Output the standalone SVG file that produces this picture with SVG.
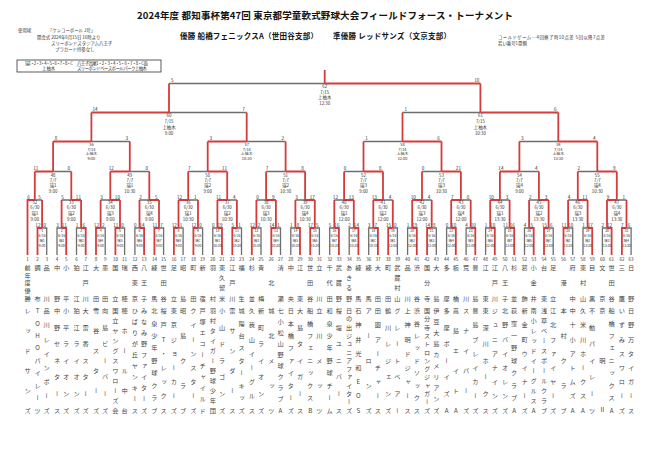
<svg xmlns="http://www.w3.org/2000/svg" width="651" height="460" viewBox="0 0 651 460">
<style>
text{font-family:"Noto Sans CJK JP","Noto Sans",sans-serif;fill:#333}
.title{font-size:9.5px;font-weight:700;fill:#111}
.sub{font-size:7.5px;font-weight:700;fill:#111}
.i{font-size:4.4px}
.l{font-size:4.4px;text-anchor:middle}
.q{font-size:3.9px}
.l1{font-size:3.4px;text-anchor:middle}
.sc{font-size:4.6px;text-anchor:middle}
.n{font-size:4.5px;text-anchor:middle}
.b,.v{font-size:6.2px;writing-mode:vertical-rl;text-orientation:upright;fill:#444}
.r{fill:none;stroke:#d43c3c;stroke-width:1.8}
.g{fill:none;stroke:#6e6e6e;stroke-width:1.3}
</style>
<g id="header">
<text class="title" x="137" y="19" textLength="376">2024年度 都知事杯第47回 東京都学童軟式野球大会フィールドフォース・トーナメント</text>
<text class="sub" x="180" y="39" textLength="138">優勝 船橋フェニックスA（世田谷支部）</text>
<text class="sub" x="333" y="39" textLength="118">準優勝 レッドサンズ（文京支部）</text>
<text class="i" x="18" y="31.5">使用球</text>
<text class="i" x="48" y="31.5">「ケンコーボール J号」</text>
<text class="i" x="37" y="39.3">開会式 2024年6月15日 16時より</text>
<text class="i" x="51" y="45">スリーボンドスタジアム八王子</text>
<text class="i" x="55" y="51">プラカード持参なし</text>
<rect x="17" y="60" width="144" height="12" fill="none" stroke="#333" stroke-width="0.8"/>
<text class="i" x="25" y="64.6" textLength="48">瑞1・2・3・4・5・6・7・8・C</text>
<text class="i" x="77" y="64.6" textLength="71">八王子高尾1・2・3・4・5・6・7・8・C面</text>
<text class="i" x="42" y="70.3">上柚木</text>
<text class="i" x="77" y="70.3" textLength="70">スリーボンドベースボールパーク上柚木</text>
<text class="i" x="498" y="39.3" textLength="107">コールドゲーム…4回終了時10点差 5回以降7点差</text>
<text class="i" x="498" y="45">若い番号1塁側</text>
</g>
<g id="connectors">
<path class="g" d="M46.7 255V228H42.1M57 255V228H61.6M76.5 255V228H81.1M105.2 255V228H100.6M124.6 255V228H120M134.9 255V228H139.5M163.6 255V228H159M183.1 255V228H178.5M202.6 255V228H198M212.8 255V228H217.4M241.5 255V228H236.9M261 255V228H256.4M280.5 255V228H275.9M290.8 255V228H295.4M319.4 255V228H314.8M329.7 255V228H334.3M349.2 255V228H353.8M368.7 255V228H373.3M397.4 255V228H392.8M407.6 255V228H412.2M436.3 255V228H431.7M446.6 255V228H451.2M466.1 255V228H470.7M485.6 255V228H490.2M505 255V228H509.6M524.5 255V228H529.1M553.2 255V228H548.6M572.7 255V228H568.1M583 255V228H587.6M602.4 255V228H607M631.1 255V228H626.5
M42.1 200H34.8M61.6 200H71.3M100.6 200H110.3M139.5 200H149.3M198 200H188.2M236.9 200H227.2M256.4 200H266.1M295.4 200H305.1M334.3 200H344.1M392.8 200H383M431.7 200H422M470.7 200H460.9M509.6 200H499.9M529.1 200H538.9M568.1 200H577.8M626.5 200H616.8
M71.3 171.5H53.1M149.3 171.5H129.8M188.2 171.5H207.7M266.1 171.5H285.6M344.1 171.5H363.5M422 171.5H441.5M538.9 171.5H519.4M577.8 171.5H597.3
M129.8 141.5H91.4M285.6 141.5H246.7M363.5 141.5H402.5M519.4 141.5H558.3
M246.7 112.5H169M402.5 112.5H480.4M169 83.5H324.7"/>
<path class="r" d="M37.5 255V228H42.1M66.2 255V228H61.6M85.7 255V228H81.1M96 255V228H100.6M115.4 255V228H120M144.1 255V228H139.5M154.4 255V228H159M173.9 255V228H178.5M193.4 255V228H198M222 255V228H217.4M232.3 255V228H236.9M251.8 255V228H256.4M271.3 255V228H275.9M300 255V228H295.4M310.2 255V228H314.8M338.9 255V228H334.3M358.4 255V228H353.8M377.9 255V228H373.3M388.2 255V228H392.8M416.8 255V228H412.2M427.1 255V228H431.7M455.8 255V228H451.2M475.3 255V228H470.7M494.8 255V228H490.2M514.2 255V228H509.6M533.7 255V228H529.1M544 255V228H548.6M563.5 255V228H568.1M592.2 255V228H587.6M611.6 255V228H607M621.9 255V228H626.5
M42.1 228V200M61.6 228V200M81.1 228V200M100.6 228V200M120 228V200M139.5 228V200M159 228V200M178.5 228V200M198 228V200M217.4 228V200M236.9 228V200M256.4 228V200M275.9 228V200M295.4 228V200M314.8 228V200M334.3 228V200M353.8 228V200M373.3 228V200M392.8 228V200M412.2 228V200M431.7 228V200M451.2 228V200M470.7 228V200M490.2 228V200M509.6 228V200M529.1 228V200M548.6 228V200M568.1 228V200M587.6 228V200M607 228V200M626.5 228V200
M27.5 255V200H34.8M81.1 200H71.3M120 200H110.3M159 200H149.3M178.5 200H188.2M217.4 200H227.2M275.9 200H266.1M314.8 200H305.1M353.8 200H344.1M373.3 200H383M412.2 200H422M451.2 200H460.9M490.2 200H499.9M548.6 200H538.9M587.6 200H577.8M607 200H616.8
M34.8 200V171.5M71.3 200V171.5M110.3 200V171.5M149.3 200V171.5M188.2 200V171.5M227.2 200V171.5M266.1 200V171.5M305.1 200V171.5M344.1 200V171.5M383 200V171.5M422 200V171.5M460.9 200V171.5M499.9 200V171.5M538.9 200V171.5M577.8 200V171.5M616.8 200V171.5
M34.8 171.5H53.1M110.3 171.5H129.8M227.2 171.5H207.7M305.1 171.5H285.6M383 171.5H363.5M460.9 171.5H441.5M499.9 171.5H519.4M616.8 171.5H597.3
M53.1 171.5V141.5M129.8 171.5V141.5M207.7 171.5V141.5M285.6 171.5V141.5M363.5 171.5V141.5M441.5 171.5V141.5M519.4 171.5V141.5M597.3 171.5V141.5
M53.1 141.5H91.4M207.7 141.5H246.7M441.5 141.5H402.5M597.3 141.5H558.3
M91.4 141.5V112.5M246.7 141.5V112.5M402.5 141.5V112.5M558.3 141.5V112.5
M91.4 112.5H169M558.3 112.5H480.4M169 112.5V83.5M480.4 112.5V83.5M480.4 83.5H324.7M324.7 83.5V70"/>
</g>
<g id="m1" transform="translate(42.1 228)"><text class="sc"><tspan x="-4.2" y="-1.3">12</tspan><tspan x="2.6" y="-1.3">0</tspan></text><text class="l1"><tspan x="0" y="4">1</tspan><tspan x="0" y="9.3">6/16</tspan><tspan x="0" y="14.3">瑞1</tspan><tspan x="0" y="19.3">9:00</tspan></text></g>
<g id="m2" transform="translate(61.6 228)"><text class="sc"><tspan x="-4.2" y="-1.3">3</tspan><tspan x="2.6" y="-1.3">11</tspan></text><text class="l1"><tspan x="0" y="4">2</tspan><tspan x="0" y="9.3">6/16</tspan><tspan x="0" y="14.3">瑞2</tspan><tspan x="0" y="19.3">9:00</tspan></text></g>
<g id="m3" transform="translate(81.1 228)"><text class="sc"><tspan x="-4.2" y="-1.3">1</tspan><tspan x="2.6" y="-1.3">6</tspan></text><text class="l1"><tspan x="0" y="4">3</tspan><tspan x="0" y="9.3">6/16</tspan><tspan x="0" y="14.3">瑞3</tspan><tspan x="0" y="19.3">9:00</tspan></text></g>
<g id="m4" transform="translate(100.6 228)"><text class="sc"><tspan x="-4.2" y="-1.3">12</tspan><tspan x="2.6" y="-1.3">2</tspan></text><text class="l1"><tspan x="0" y="4">4</tspan><tspan x="0" y="9.3">6/16</tspan><tspan x="0" y="14.3">瑞4</tspan><tspan x="0" y="19.3">9:00</tspan></text></g>
<g id="m5" transform="translate(120 228)"><text class="sc"><tspan x="-4.2" y="-1.3">11</tspan><tspan x="2.6" y="-1.3">0</tspan></text><text class="l1"><tspan x="0" y="4">5</tspan><tspan x="0" y="9.3">6/16</tspan><tspan x="0" y="14.3">瑞5</tspan><tspan x="0" y="19.3">9:00</tspan></text></g>
<g id="m6" transform="translate(139.5 228)"><text class="sc"><tspan x="-4.2" y="-1.3">0</tspan><tspan x="2.6" y="-1.3">14</tspan></text><text class="l1"><tspan x="0" y="4">6</tspan><tspan x="0" y="9.3">6/16</tspan><tspan x="0" y="14.3">瑞6</tspan><tspan x="0" y="19.3">9:00</tspan></text></g>
<g id="m7" transform="translate(159 228)"><text class="sc"><tspan x="-4.2" y="-1.3">11</tspan><tspan x="2.6" y="-1.3">7</tspan></text><text class="l1"><tspan x="0" y="4">7</tspan><tspan x="0" y="9.3">6/16</tspan><tspan x="0" y="14.3">瑞7</tspan><tspan x="0" y="19.3">9:00</tspan></text></g>
<g id="m8" transform="translate(178.5 228)"><text class="sc"><tspan x="-4.2" y="-1.3">12</tspan><tspan x="2.6" y="-1.3">1</tspan></text><text class="l1"><tspan x="0" y="4">8</tspan><tspan x="0" y="9.3">6/16</tspan><tspan x="0" y="14.3">瑞8</tspan><tspan x="0" y="19.3">9:00</tspan></text></g>
<g id="m9" transform="translate(198 228)"><text class="sc"><tspan x="-4.2" y="-1.3">12</tspan><tspan x="2.6" y="-1.3">0</tspan></text><text class="l1"><tspan x="0" y="4">9</tspan><tspan x="0" y="9.3">6/16</tspan><tspan x="0" y="14.3">瑞C</tspan><tspan x="0" y="19.3">9:00</tspan></text></g>
<g id="m10" transform="translate(217.4 228)"><text class="sc"><tspan x="-4.2" y="-1.3">0</tspan><tspan x="2.6" y="-1.3">19</tspan></text><text class="l1"><tspan x="0" y="4">10</tspan><tspan x="0" y="9.3">6/16</tspan><tspan x="0" y="14.3">瑞1</tspan><tspan x="0" y="19.3">10:30</tspan></text></g>
<g id="m11" transform="translate(236.9 228)"><text class="sc"><tspan x="-4.2" y="-1.3">5</tspan><tspan x="2.6" y="-1.3">1</tspan></text><text class="l1"><tspan x="0" y="4">11</tspan><tspan x="0" y="9.3">6/16</tspan><tspan x="0" y="14.3">瑞2</tspan><tspan x="0" y="19.3">10:30</tspan></text></g>
<g id="m12" transform="translate(256.4 228)"><text class="sc"><tspan x="-4.2" y="-1.3">12</tspan><tspan x="2.6" y="-1.3">2</tspan></text><text class="l1"><tspan x="0" y="4">12</tspan><tspan x="0" y="9.3">6/16</tspan><tspan x="0" y="14.3">瑞3</tspan><tspan x="0" y="19.3">10:30</tspan></text></g>
<g id="m13" transform="translate(275.9 228)"><text class="sc"><tspan x="-4.2" y="-1.3">14</tspan><tspan x="2.6" y="-1.3">1</tspan></text><text class="l1"><tspan x="0" y="4">13</tspan><tspan x="0" y="9.3">6/16</tspan><tspan x="0" y="14.3">瑞4</tspan><tspan x="0" y="19.3">10:30</tspan></text></g>
<g id="m14" transform="translate(295.4 228)"><text class="sc"><tspan x="-4.2" y="-1.3">1</tspan><tspan x="2.6" y="-1.3">8</tspan></text><text class="l1"><tspan x="0" y="4">14</tspan><tspan x="0" y="9.3">6/16</tspan><tspan x="0" y="14.3">瑞5</tspan><tspan x="0" y="19.3">10:30</tspan></text></g>
<g id="m15" transform="translate(314.8 228)"><text class="sc"><tspan x="-4.2" y="-1.3">17</tspan><tspan x="2.6" y="-1.3">5</tspan></text><text class="l1"><tspan x="0" y="4">15</tspan><tspan x="0" y="9.3">6/16</tspan><tspan x="0" y="14.3">瑞6</tspan><tspan x="0" y="19.3">10:30</tspan></text></g>
<g id="m16" transform="translate(334.3 228)"><text class="sc"><tspan x="-4.2" y="-1.3">5</tspan><tspan x="2.6" y="-1.3">16</tspan></text><text class="l1"><tspan x="0" y="4">16</tspan><tspan x="0" y="9.3">6/16</tspan><tspan x="0" y="14.3">瑞7</tspan><tspan x="0" y="19.3">10:30</tspan></text></g>
<g id="m17" transform="translate(353.8 228)"><text class="sc"><tspan x="-4.2" y="-1.3">2</tspan><tspan x="2.6" y="-1.3">14</tspan></text><text class="l1"><tspan x="0" y="4">17</tspan><tspan x="0" y="9.3">6/16</tspan><tspan x="0" y="14.3">瑞8</tspan><tspan x="0" y="19.3">10:30</tspan></text></g>
<g id="m18" transform="translate(373.3 228)"><text class="sc"><tspan x="-4.2" y="-1.3">3</tspan><tspan x="2.6" y="-1.3">7</tspan></text><text class="l1"><tspan x="0" y="4">18</tspan><tspan x="0" y="9.3">6/16</tspan><tspan x="0" y="14.3">瑞C</tspan><tspan x="0" y="19.3">10:30</tspan></text></g>
<g id="m19" transform="translate(392.8 228)"><text class="sc"><tspan x="-4.2" y="-1.3">15</tspan><tspan x="2.6" y="-1.3">0</tspan></text><text class="l1"><tspan x="0" y="4">19</tspan><tspan x="0" y="9.3">6/16</tspan><tspan x="0" y="14.3">瑞1</tspan><tspan x="0" y="19.3">12:00</tspan></text></g>
<g id="m20" transform="translate(412.2 228)"><text class="sc"><tspan x="-4.2" y="-1.3">1</tspan><tspan x="2.6" y="-1.3">19</tspan></text><text class="l1"><tspan x="0" y="4">20</tspan><tspan x="0" y="9.3">6/16</tspan><tspan x="0" y="14.3">瑞2</tspan><tspan x="0" y="19.3">12:00</tspan></text></g>
<g id="m21" transform="translate(431.7 228)"><text class="sc"><tspan x="-4.2" y="-1.3">14</tspan><tspan x="2.6" y="-1.3">8</tspan></text><text class="l1"><tspan x="0" y="4">21</tspan><tspan x="0" y="9.3">6/16</tspan><tspan x="0" y="14.3">瑞3</tspan><tspan x="0" y="19.3">12:00</tspan></text></g>
<g id="m22" transform="translate(451.2 228)"><text class="sc"><tspan x="-4.2" y="-1.3">0</tspan><tspan x="2.6" y="-1.3">10</tspan></text><text class="l1"><tspan x="0" y="4">22</tspan><tspan x="0" y="9.3">6/16</tspan><tspan x="0" y="14.3">瑞4</tspan><tspan x="0" y="19.3">12:00</tspan></text></g>
<g id="m23" transform="translate(470.7 228)"><text class="sc"><tspan x="-4.2" y="-1.3">4</tspan><tspan x="2.6" y="-1.3">10</tspan></text><text class="l1"><tspan x="0" y="4">23</tspan><tspan x="0" y="9.3">6/16</tspan><tspan x="0" y="14.3">瑞5</tspan><tspan x="0" y="19.3">12:00</tspan></text></g>
<g id="m24" transform="translate(490.2 228)"><text class="sc"><tspan x="-4.2" y="-1.3">1</tspan><tspan x="2.6" y="-1.3">10</tspan></text><text class="l1"><tspan x="0" y="4">24</tspan><tspan x="0" y="9.3">6/16</tspan><tspan x="0" y="14.3">瑞6</tspan><tspan x="0" y="19.3">12:00</tspan></text></g>
<g id="m25" transform="translate(509.6 228)"><text class="sc"><tspan x="-4.2" y="-1.3">11</tspan><tspan x="2.6" y="-1.3">16</tspan></text><text class="l1"><tspan x="0" y="4">25</tspan><tspan x="0" y="9.3">6/16</tspan><tspan x="0" y="14.3">瑞7</tspan><tspan x="0" y="19.3">12:00</tspan></text></g>
<g id="m26" transform="translate(529.1 228)"><text class="sc"><tspan x="-4.2" y="-1.3">4</tspan><tspan x="2.6" y="-1.3">5</tspan></text><text class="l1"><tspan x="0" y="4">26</tspan><tspan x="0" y="9.3">6/16</tspan><tspan x="0" y="14.3">瑞8</tspan><tspan x="0" y="19.3">12:00</tspan></text></g>
<g id="m27" transform="translate(548.6 228)"><text class="sc"><tspan x="-4.2" y="-1.3">15</tspan><tspan x="2.6" y="-1.3">6</tspan></text><text class="l1"><tspan x="0" y="4">27</tspan><tspan x="0" y="9.3">6/16</tspan><tspan x="0" y="14.3">瑞C</tspan><tspan x="0" y="19.3">12:00</tspan></text></g>
<g id="m28" transform="translate(568.1 228)"><text class="sc"><tspan x="-4.2" y="-1.3">11</tspan><tspan x="2.6" y="-1.3">10</tspan></text><text class="l1"><tspan x="0" y="4">28</tspan><tspan x="0" y="9.3">6/16</tspan><tspan x="0" y="14.3">瑞1</tspan><tspan x="0" y="19.3">13:30</tspan></text></g>
<g id="m29" transform="translate(587.6 228)"><text class="sc"><tspan x="-4.2" y="-1.3">1</tspan><tspan x="2.6" y="-1.3">17</tspan></text><text class="l1"><tspan x="0" y="4">29</tspan><tspan x="0" y="9.3">6/16</tspan><tspan x="0" y="14.3">瑞2</tspan><tspan x="0" y="19.3">13:30</tspan></text></g>
<g id="m30" transform="translate(607 228)"><text class="sc"><tspan x="-4.2" y="-1.3">2</tspan><tspan x="2.6" y="-1.3">12</tspan></text><text class="l1"><tspan x="0" y="4">30</tspan><tspan x="0" y="9.3">6/16</tspan><tspan x="0" y="14.3">瑞3</tspan><tspan x="0" y="19.3">13:30</tspan></text></g>
<g id="m31" transform="translate(626.5 228)"><text class="sc"><tspan x="-4.2" y="-1.3">7</tspan><tspan x="2.6" y="-1.3">6</tspan></text><text class="l1"><tspan x="0" y="4">31</tspan><tspan x="0" y="9.3">6/16</tspan><tspan x="0" y="14.3">瑞4</tspan><tspan x="0" y="19.3">13:30</tspan></text></g>
<g id="m32" transform="translate(34.8 200)"><text class="sc"><tspan x="-6.3" y="-1.3">6</tspan><tspan x="4.7" y="-1.3">5</tspan></text><text class="l"><tspan x="0" y="4.3">32</tspan><tspan x="0" y="9.3">6/30</tspan><tspan x="0" y="14.9">瑞1</tspan><tspan x="0" y="20.9">9:00</tspan></text></g>
<g id="m33" transform="translate(71.3 200)"><text class="sc"><tspan x="-8.7" y="-1.3">5</tspan><tspan x="7.1" y="-1.3">11</tspan></text><text class="l"><tspan x="0" y="4.3">33</tspan><tspan x="0" y="9.3">6/30</tspan><tspan x="0" y="14.9">瑞2</tspan><tspan x="0" y="20.9">9:00</tspan></text></g>
<g id="m34" transform="translate(110.3 200)"><text class="sc"><tspan x="-8.7" y="-1.3">3</tspan><tspan x="7.1" y="-1.3">10</tspan></text><text class="l"><tspan x="0" y="4.3">34</tspan><tspan x="0" y="9.3">6/30</tspan><tspan x="0" y="14.9">瑞3</tspan><tspan x="0" y="20.9">9:00</tspan></text></g>
<g id="m35" transform="translate(149.3 200)"><text class="sc"><tspan x="-8.7" y="-1.3">2</tspan><tspan x="7.1" y="-1.3">5</tspan></text><text class="l"><tspan x="0" y="4.3">35</tspan><tspan x="0" y="9.3">6/30</tspan><tspan x="0" y="14.9">瑞4</tspan><tspan x="0" y="20.9">9:00</tspan></text></g>
<g id="m36" transform="translate(188.2 200)"><text class="sc"><tspan x="-8.7" y="-1.3">12</tspan><tspan x="7.1" y="-1.3">1</tspan></text><text class="l"><tspan x="0" y="4.3">36</tspan><tspan x="0" y="9.3">6/30</tspan><tspan x="0" y="14.9">瑞1</tspan><tspan x="0" y="20.9">10:30</tspan></text></g>
<g id="m37" transform="translate(227.2 200)"><text class="sc"><tspan x="-8.7" y="-1.3">11</tspan><tspan x="7.1" y="-1.3">4</tspan></text><text class="l"><tspan x="0" y="4.3">37</tspan><tspan x="0" y="9.3">6/30</tspan><tspan x="0" y="14.9">瑞2</tspan><tspan x="0" y="20.9">10:30</tspan></text></g>
<g id="m38" transform="translate(266.1 200)"><text class="sc"><tspan x="-8.7" y="-1.3">0</tspan><tspan x="7.1" y="-1.3">9</tspan></text><text class="l"><tspan x="0" y="4.3">38</tspan><tspan x="0" y="9.3">6/30</tspan><tspan x="0" y="14.9">瑞3</tspan><tspan x="0" y="20.9">10:30</tspan></text></g>
<g id="m39" transform="translate(305.1 200)"><text class="sc"><tspan x="-8.7" y="-1.3">3</tspan><tspan x="7.1" y="-1.3">17</tspan></text><text class="l"><tspan x="0" y="4.3">39</tspan><tspan x="0" y="9.3">6/30</tspan><tspan x="0" y="14.9">瑞4</tspan><tspan x="0" y="20.9">10:30</tspan></text></g>
<g id="m40" transform="translate(344.1 200)"><text class="sc"><tspan x="-8.7" y="-1.3">12</tspan><tspan x="7.1" y="-1.3">13</tspan></text><text class="l"><tspan x="0" y="4.3">40</tspan><tspan x="0" y="9.3">6/30</tspan><tspan x="0" y="14.9">瑞1</tspan><tspan x="0" y="20.9">12:00</tspan></text></g>
<g id="m41" transform="translate(383 200)"><text class="sc"><tspan x="-8.7" y="-1.3">13</tspan><tspan x="7.1" y="-1.3">4</tspan></text><text class="l"><tspan x="0" y="4.3">41</tspan><tspan x="0" y="9.3">6/30</tspan><tspan x="0" y="14.9">瑞2</tspan><tspan x="0" y="20.9">12:00</tspan></text></g>
<g id="m42" transform="translate(422 200)"><text class="sc"><tspan x="-8.7" y="-1.3">10</tspan><tspan x="7.1" y="-1.3">4</tspan></text><text class="l"><tspan x="0" y="4.3">42</tspan><tspan x="0" y="9.3">6/30</tspan><tspan x="0" y="14.9">瑞3</tspan><tspan x="0" y="20.9">12:00</tspan></text></g>
<g id="m43" transform="translate(460.9 200)"><text class="sc"><tspan x="-8.7" y="-1.3">7</tspan><tspan x="7.1" y="-1.3">0</tspan></text><text class="l"><tspan x="0" y="4.3">43</tspan><tspan x="0" y="9.3">6/30</tspan><tspan x="0" y="14.9">瑞4</tspan><tspan x="0" y="20.9">12:00</tspan></text></g>
<g id="m44" transform="translate(499.9 200)"><text class="sc"><tspan x="-8.7" y="-1.3">10</tspan><tspan x="7.1" y="-1.3">3</tspan></text><text class="l"><tspan x="0" y="4.3">44</tspan><tspan x="0" y="9.3">6/30</tspan><tspan x="0" y="14.9">瑞1</tspan><tspan x="0" y="20.9">13:30</tspan></text></g>
<g id="m45" transform="translate(538.9 200)"><text class="sc"><tspan x="-8.7" y="-1.3">2</tspan><tspan x="7.1" y="-1.3">3</tspan></text><text class="l"><tspan x="0" y="4.3">45</tspan><tspan x="0" y="9.3">6/30</tspan><tspan x="0" y="14.9">瑞2</tspan><tspan x="0" y="20.9">13:30</tspan></text></g>
<g id="m46" transform="translate(577.8 200)"><text class="sc"><tspan x="-8.7" y="-1.3">4</tspan><tspan x="7.1" y="-1.3">11</tspan></text><text class="l"><tspan x="0" y="4.3">46</tspan><tspan x="0" y="9.3">6/30</tspan><tspan x="0" y="14.9">瑞3</tspan><tspan x="0" y="20.9">13:30</tspan></text></g>
<g id="m47" transform="translate(616.8 200)"><text class="sc"><tspan x="-8.7" y="-1.3">9</tspan><tspan x="7.1" y="-1.3">1</tspan></text><text class="l"><tspan x="0" y="4.3">47</tspan><tspan x="0" y="9.3">6/30</tspan><tspan x="0" y="14.9">瑞4</tspan><tspan x="0" y="20.9">13:30</tspan></text></g>
<g id="m48" transform="translate(53.1 171.5)"><text class="sc"><tspan x="-17.3" y="-1.3">11</tspan><tspan x="15.6" y="-1.3">0</tspan></text><text class="l"><tspan x="0" y="5.1">48</tspan><tspan x="0" y="10.1">7/7</tspan><tspan x="0" y="15.1">瑞1</tspan><tspan x="0" y="21.1">9:00</tspan></text></g>
<g id="m49" transform="translate(129.8 171.5)"><text class="sc"><tspan x="-18.5" y="-1.3">12</tspan><tspan x="16.9" y="-1.3">0</tspan></text><text class="l"><tspan x="0" y="5.1">49</tspan><tspan x="0" y="10.1">7/7</tspan><tspan x="0" y="15.1">瑞1</tspan><tspan x="0" y="21.1">10:30</tspan></text></g>
<g id="m50" transform="translate(207.7 171.5)"><text class="sc"><tspan x="-18.5" y="-1.3">7</tspan><tspan x="16.9" y="-1.3">11</tspan></text><text class="l"><tspan x="0" y="5.1">50</tspan><tspan x="0" y="10.1">7/7</tspan><tspan x="0" y="15.1">瑞2</tspan><tspan x="0" y="21.1">9:00</tspan></text></g>
<g id="m51" transform="translate(285.6 171.5)"><text class="sc"><tspan x="-18.5" y="-1.3">7</tspan><tspan x="16.9" y="-1.3">8</tspan></text><text class="l"><tspan x="0" y="5.1">51</tspan><tspan x="0" y="10.1">7/7</tspan><tspan x="0" y="15.1">瑞2</tspan><tspan x="0" y="21.1">10:30</tspan></text></g>
<g id="m52" transform="translate(363.5 171.5)"><text class="sc"><tspan x="-18.5" y="-1.3">0</tspan><tspan x="16.9" y="-1.3">8</tspan></text><text class="l"><tspan x="0" y="5.1">52</tspan><tspan x="0" y="10.1">7/7</tspan><tspan x="0" y="15.1">瑞3</tspan><tspan x="0" y="21.1">9:00</tspan></text></g>
<g id="m53" transform="translate(441.5 171.5)"><text class="sc"><tspan x="-18.5" y="-1.3">0</tspan><tspan x="16.9" y="-1.3">21</tspan></text><text class="l"><tspan x="0" y="5.1">53</tspan><tspan x="0" y="10.1">7/7</tspan><tspan x="0" y="15.1">瑞3</tspan><tspan x="0" y="21.1">10:30</tspan></text></g>
<g id="m54" transform="translate(519.4 171.5)"><text class="sc"><tspan x="-18.5" y="-1.3">14</tspan><tspan x="16.9" y="-1.3">4</tspan></text><text class="l"><tspan x="0" y="5.1">54</tspan><tspan x="0" y="10.1">7/7</tspan><tspan x="0" y="15.1">瑞4</tspan><tspan x="0" y="21.1">9:00</tspan></text></g>
<g id="m55" transform="translate(597.3 171.5)"><text class="sc"><tspan x="-18.5" y="-1.3">2</tspan><tspan x="16.9" y="-1.3">9</tspan></text><text class="l"><tspan x="0" y="5.1">55</tspan><tspan x="0" y="10.1">7/7</tspan><tspan x="0" y="15.1">瑞4</tspan><tspan x="0" y="21.1">10:30</tspan></text></g>
<g id="m56" transform="translate(91.4 141.5)"><text class="sc"><tspan x="-35.3" y="-1.3">8</tspan><tspan x="35.4" y="-1.3">3</tspan></text><text class="l q"><tspan x="0" y="4.2">56</tspan><tspan x="0" y="9">7/14</tspan><tspan x="0" y="13.9">上柚木</tspan><tspan x="0" y="18.9">9:00</tspan></text></g>
<g id="m57" transform="translate(246.7 141.5)"><text class="sc"><tspan x="-36" y="-1.3">3</tspan><tspan x="36" y="-1.3">2</tspan></text><text class="l q"><tspan x="0" y="4.2">57</tspan><tspan x="0" y="9">7/14</tspan><tspan x="0" y="13.9">上柚木</tspan><tspan x="0" y="18.9">10:30</tspan></text></g>
<g id="m58" transform="translate(402.5 141.5)"><text class="sc"><tspan x="-36" y="-1.3">1</tspan><tspan x="36" y="-1.3">6</tspan></text><text class="l q"><tspan x="0" y="4.2">58</tspan><tspan x="0" y="9">7/14</tspan><tspan x="0" y="13.9">上柚木</tspan><tspan x="0" y="18.9">12:00</tspan></text></g>
<g id="m59" transform="translate(558.3 141.5)"><text class="sc"><tspan x="-36" y="-1.3">3</tspan><tspan x="36" y="-1.3">4</tspan></text><text class="l q"><tspan x="0" y="4.2">59</tspan><tspan x="0" y="9">7/14</tspan><tspan x="0" y="13.9">上柚木</tspan><tspan x="0" y="18.9">13:30</tspan></text></g>
<g id="m60" transform="translate(169 112.5)"><text class="sc"><tspan x="-74" y="-1.3">14</tspan><tspan x="74.5" y="-1.3">7</tspan></text><text class="l"><tspan x="0" y="4.8">60</tspan><tspan x="0" y="10.4">7/15</tspan><tspan x="0" y="16.4">上柚木</tspan><tspan x="0" y="22.4">9:00</tspan></text></g>
<g id="m61" transform="translate(480.4 112.5)"><text class="sc"><tspan x="-74.5" y="-1.3">1</tspan><tspan x="74.8" y="-1.3">6</tspan></text><text class="l"><tspan x="0" y="4.8">61</tspan><tspan x="0" y="10.4">7/15</tspan><tspan x="0" y="16.4">上柚木</tspan><tspan x="0" y="22.4">10:30</tspan></text></g>
<g id="m62" transform="translate(324.7 83.5)"><text class="sc"><tspan x="-152.5" y="-1.3">5</tspan><tspan x="152" y="-1.3">10</tspan></text><text class="l"><tspan x="0" y="4.8">62</tspan><tspan x="0" y="10.4">7/15</tspan><tspan x="0" y="15.9">上柚木</tspan><tspan x="0" y="21.4">12:30</tspan></text></g>
<g id="t1"><text class="n" x="27.5" y="261">1</text><text class="b" x="27.5" y="264.75" textLength="36.5">前年度優勝</text><text class="v" x="27.5" y="307.75" textLength="105.5">レッドサンズ</text></g>
<g id="t2"><text class="n" x="37.5" y="261">2</text><text class="b" x="37.5" y="264.75" textLength="36.5">調布</text><text class="v" x="37.5" y="307.75" textLength="105.5">TOHOパイレーツ</text></g>
<g id="t3"><text class="n" x="46.7" y="261">3</text><text class="b" x="46.7" y="264.75" textLength="36.5">品川</text><text class="v" x="46.7" y="307.75" textLength="105.5">品川レインボーズ</text></g>
<g id="t4"><text class="n" x="57" y="261">4</text><text class="b" x="57" y="264.75" textLength="36.5">中野</text><text class="v" x="57" y="307.75" textLength="105.5">中野セネタース</text></g>
<g id="t5"><text class="n" x="66.2" y="261">5</text><text class="b" x="66.2" y="264.75" textLength="36.5">小平</text><text class="v" x="66.2" y="307.75" textLength="105.5">小平ライオンズ</text></g>
<g id="t6"><text class="n" x="76.5" y="261">6</text><text class="b" x="76.5" y="264.75" textLength="36.5">狛江</text><text class="v" x="76.5" y="307.75" textLength="105.5">狛江ライオンズ</text></g>
<g id="t7"><text class="n" x="85.7" y="261">7</text><text class="b" x="85.7" y="264.75" textLength="36.5">江戸川</text><text class="v" x="85.7" y="307.75" textLength="105.5">大雷香スターズ</text></g>
<g id="t8"><text class="n" x="96" y="261">8</text><text class="b" x="96" y="264.75" textLength="36.5">大田</text><text class="v" x="96" y="307.75" textLength="105.5">雪谷スターズ</text></g>
<g id="t9"><text class="n" x="105.2" y="261">9</text><text class="b" x="105.2" y="264.75" textLength="36.5">墨田</text><text class="v" x="105.2" y="307.75" textLength="105.5">向島ビーバーズ</text></g>
<g id="t10"><text class="n" x="115.4" y="261">10</text><text class="b" x="115.4" y="264.75" textLength="36.5">国立</text><text class="v" x="115.4" y="307.75" textLength="105.5">国立ヤングスワローズ会</text></g>
<g id="t11"><text class="n" x="124.6" y="261">11</text><text class="b" x="124.6" y="264.75" textLength="36.5">瑞穂</text><text class="v" x="124.6" y="307.75" textLength="105.5">穂ホール中台</text></g>
<g id="t12"><text class="n" x="134.9" y="261">12</text><text class="b" x="134.9" y="264.75" textLength="36.5">西東京</text><text class="v" x="134.9" y="307.75" textLength="105.5">ひばりが丘ヤンキース</text></g>
<g id="t13"><text class="n" x="144.1" y="261">13</text><text class="b" x="144.1" y="264.75" textLength="36.5">八王子</text><text class="v" x="144.1" y="307.75" textLength="105.5">みなみ野ファイターズ</text></g>
<g id="t14"><text class="n" x="154.4" y="261">14</text><text class="b" x="154.4" y="264.75" textLength="36.5">練馬</text><text class="v" x="154.4" y="307.75" textLength="105.5">北泉少年野球クラブ</text></g>
<g id="t15"><text class="n" x="163.6" y="261">15</text><text class="b" x="163.6" y="264.75" textLength="36.5">世田谷</text><text class="v" x="163.6" y="307.75" textLength="105.5">桜戸T・レックス</text></g>
<g id="t16"><text class="n" x="173.9" y="261">16</text><text class="b" x="173.9" y="264.75" textLength="36.5">足立</text><text class="v" x="173.9" y="307.75" textLength="105.5">東京ジョーカーズ</text></g>
<g id="t17"><text class="n" x="183.1" y="261">17</text><text class="b" x="183.1" y="264.75" textLength="36.5">昭島</text><text class="v" x="183.1" y="307.75" textLength="105.5">昭島クラブ</text></g>
<g id="t18"><text class="n" x="193.4" y="261">18</text><text class="b" x="193.4" y="264.75" textLength="36.5">町田</text><text class="v" x="193.4" y="307.75" textLength="105.5">クイーンスターズ</text></g>
<g id="t19"><text class="n" x="202.6" y="261">19</text><text class="b" x="202.6" y="264.75" textLength="36.5">新宿</text><text class="v" x="202.6" y="307.75" textLength="105.5">戸塚エコーチャイルド</text></g>
<g id="t20"><text class="n" x="212.8" y="261">20</text><text class="b" x="212.8" y="264.75" textLength="36.5">羽村</text><text class="v" x="212.8" y="307.75" textLength="105.5">羽村タイガー野球少年団</text></g>
<g id="t21"><text class="n" x="222" y="261">21</text><text class="b" x="222" y="264.75" textLength="36.5">東久留米</text><text class="v" x="222" y="307.75" textLength="105.5">小山ドラゴンズ</text></g>
<g id="t22"><text class="n" x="232.3" y="261">22</text><text class="b" x="232.3" y="264.75" textLength="36.5">江戸川</text><text class="v" x="232.3" y="307.75" textLength="105.5">雷サンダース</text></g>
<g id="t23"><text class="n" x="241.5" y="261">23</text><text class="b" x="241.5" y="264.75" textLength="36.5">福生</text><text class="v" x="241.5" y="307.75" textLength="105.5">城陽台スターキッズ</text></g>
<g id="t24"><text class="n" x="251.8" y="261">24</text><text class="b" x="251.8" y="264.75" textLength="36.5">杉並</text><text class="v" x="251.8" y="307.75" textLength="105.5">久我山イーグルス</text></g>
<g id="t25"><text class="n" x="261" y="261">25</text><text class="b" x="261" y="264.75" textLength="36.5">青梅</text><text class="v" x="261" y="307.75" textLength="105.5">新町ライオンズ</text></g>
<g id="t26"><text class="n" x="271.3" y="261">26</text><text class="b" x="271.3" y="279.75">北</text><text class="v" x="271.3" y="307.75" textLength="105.5">城北メッツ</text></g>
<g id="t27"><text class="n" x="280.5" y="261">27</text><text class="b" x="280.5" y="264.75" textLength="36.5">清瀬</text><text class="v" x="280.5" y="307.75" textLength="105.5">七小松山野球クラブA</text></g>
<g id="t28"><text class="n" x="290.8" y="261">28</text><text class="b" x="290.8" y="264.75" textLength="36.5">中央</text><text class="v" x="290.8" y="307.75" textLength="105.5">日本橋ファイターズ</text></g>
<g id="t29"><text class="n" x="300" y="261">29</text><text class="b" x="300" y="264.75" textLength="36.5">江東</text><text class="v" x="300" y="307.75" textLength="105.5">大島タイガース</text></g>
<g id="t30"><text class="n" x="310.2" y="261">30</text><text class="b" x="310.2" y="264.75" textLength="36.5">世田谷</text><text class="v" x="310.2" y="307.75" textLength="105.5">船橋フェニックスB</text></g>
<g id="t31"><text class="n" x="319.4" y="261">31</text><text class="b" x="319.4" y="264.75" textLength="36.5">立川</text><text class="v" x="319.4" y="307.75" textLength="105.5">立川メッツ</text></g>
<g id="t32"><text class="n" x="329.7" y="261">32</text><text class="b" x="329.7" y="264.75" textLength="36.5">千代田</text><text class="v" x="329.7" y="307.75" textLength="105.5">和泉少年野球チーム</text></g>
<g id="t33"><text class="n" x="338.9" y="261">33</text><text class="b" x="338.9" y="264.75" textLength="36.5">武蔵野</text><text class="v" x="338.9" y="307.75" textLength="105.5">桜堤ユニバース</text></g>
<g id="t34"><text class="n" x="349.2" y="261">34</text><text class="b" x="349.2" y="264.75" textLength="36.5">あきる野</text><text class="v" x="349.2" y="307.75" textLength="105.5">日の出ジュニアファイターズ</text></g>
<g id="t35"><text class="n" x="358.4" y="261">35</text><text class="b" x="358.4" y="264.75" textLength="36.5">練馬</text><text class="v" x="358.4" y="307.75" textLength="105.5">石神井光和EOS</text></g>
<g id="t36"><text class="n" x="368.7" y="261">36</text><text class="b" x="368.7" y="264.75" textLength="36.5">練馬</text><text class="v" x="368.7" y="307.75" textLength="105.5">アーロンズ</text></g>
<g id="t37"><text class="n" x="377.9" y="261">37</text><text class="b" x="377.9" y="264.75" textLength="36.5">大田</text><text class="v" x="377.9" y="307.75" textLength="105.5">田園アーチャース</text></g>
<g id="t38"><text class="n" x="388.2" y="261">38</text><text class="b" x="388.2" y="264.75" textLength="36.5">町田</text><text class="v" x="388.2" y="307.75" textLength="105.5">鶴川レジェンズ</text></g>
<g id="t39"><text class="n" x="397.4" y="261">39</text><text class="b" x="397.4" y="264.75" textLength="36.5">武蔵村山</text><text class="v" x="397.4" y="307.75" textLength="105.5">グレートベアー</text></g>
<g id="t40"><text class="n" x="407.6" y="261">40</text><text class="b" x="407.6" y="264.75" textLength="36.5">品川</text><text class="v" x="407.6" y="307.75" textLength="105.5">上神明ドジャース</text></g>
<g id="t41"><text class="n" x="416.8" y="261">41</text><text class="b" x="416.8" y="264.75" textLength="36.5">渋谷</text><text class="v" x="416.8" y="307.75" textLength="105.5">渋谷レッドソックス</text></g>
<g id="t42"><text class="n" x="427.1" y="261">42</text><text class="b" x="427.1" y="264.75" textLength="36.5">国分寺</text><text class="v" x="427.1" y="307.75" textLength="105.5">国分寺ストロングジャガーズ</text></g>
<g id="t43"><text class="n" x="436.3" y="261">43</text><text class="b" x="436.3" y="264.75" textLength="36.5">大島</text><text class="v" x="436.3" y="307.75" textLength="105.5">伊豆大島カメリアンズ</text></g>
<g id="t44"><text class="n" x="446.6" y="261">44</text><text class="b" x="446.6" y="264.75" textLength="36.5">多摩</text><text class="v" x="446.6" y="307.75" textLength="105.5">多摩ボーイズA</text></g>
<g id="t45"><text class="n" x="455.8" y="261">45</text><text class="b" x="455.8" y="264.75" textLength="36.5">板橋</text><text class="v" x="455.8" y="307.75" textLength="105.5">高島エイトA</text></g>
<g id="t46"><text class="n" x="466.1" y="261">46</text><text class="b" x="466.1" y="264.75" textLength="36.5">荒川</text><text class="v" x="466.1" y="307.75" textLength="105.5">スナイパーズ</text></g>
<g id="t47"><text class="n" x="475.3" y="261">47</text><text class="b" x="475.3" y="264.75" textLength="36.5">豊島</text><text class="v" x="475.3" y="307.75" textLength="105.5">豊島ブレイカーズ</text></g>
<g id="t48"><text class="n" x="485.6" y="261">48</text><text class="b" x="485.6" y="264.75" textLength="36.5">江東</text><text class="v" x="485.6" y="307.75" textLength="105.5">東深川ホークス</text></g>
<g id="t49"><text class="n" x="494.8" y="261">49</text><text class="b" x="494.8" y="264.75" textLength="36.5">江戸川</text><text class="v" x="494.8" y="307.75" textLength="105.5">ジュニアナインズ</text></g>
<g id="t50"><text class="n" x="505" y="261">50</text><text class="b" x="505" y="264.75" textLength="36.5">八王子</text><text class="v" x="505" y="307.75" textLength="105.5">北野バイオレンズ</text></g>
<g id="t51"><text class="n" x="514.2" y="261">51</text><text class="b" x="514.2" y="264.75" textLength="36.5">杉並</text><text class="v" x="514.2" y="307.75" textLength="105.5">荻窪一野球クラブA</text></g>
<g id="t52"><text class="n" x="524.5" y="261">52</text><text class="b" x="524.5" y="264.75" textLength="36.5">葛飾</text><text class="v" x="524.5" y="307.75" textLength="105.5">新金町ウイナーズ</text></g>
<g id="t53"><text class="n" x="533.7" y="261">53</text><text class="b" x="533.7" y="264.75" textLength="36.5">小金井</text><text class="v" x="533.7" y="307.75" textLength="105.5">南小レッドイーグルスA</text></g>
<g id="t54"><text class="n" x="544" y="261">54</text><text class="b" x="544" y="264.75" textLength="36.5">台東</text><text class="v" x="544" y="307.75" textLength="105.5">浅草ベースボールクラブ</text></g>
<g id="t55"><text class="n" x="553.2" y="261">55</text><text class="b" x="553.2" y="264.75" textLength="36.5">足立</text><text class="v" x="553.2" y="307.75" textLength="105.5">江北ファイヤーズ</text></g>
<g id="t56"><text class="n" x="563.5" y="261">56</text><text class="b" x="563.5" y="279.75">港</text><text class="v" x="563.5" y="307.75" textLength="105.5">本村クラブ</text></g>
<g id="t57"><text class="n" x="572.7" y="261">57</text><text class="b" x="572.7" y="264.75" textLength="36.5">府中</text><text class="v" x="572.7" y="307.75" textLength="105.5">中十小アトムズA</text></g>
<g id="t58"><text class="n" x="583" y="261">58</text><text class="b" x="583" y="264.75" textLength="36.5">東村山</text><text class="v" x="583" y="307.75" textLength="105.5">久米川ホークスA</text></g>
<g id="t59"><text class="n" x="592.2" y="261">59</text><text class="b" x="592.2" y="264.75" textLength="36.5">目黒</text><text class="v" x="592.2" y="307.75" textLength="105.5">不動パイレーツ</text></g>
<g id="t60"><text class="n" x="602.4" y="261">60</text><text class="b" x="602.4" y="264.75" textLength="36.5">文京</text><text class="v" x="602.4" y="307.75" textLength="105.5">京明Ⅱ</text></g>
<g id="t61"><text class="n" x="611.6" y="261">61</text><text class="b" x="611.6" y="264.75" textLength="36.5">世田谷</text><text class="v" x="611.6" y="307.75" textLength="105.5">船橋フェニックスA</text></g>
<g id="t62"><text class="n" x="621.9" y="261">62</text><text class="b" x="621.9" y="264.75" textLength="36.5">三鷹</text><text class="v" x="621.9" y="307.75" textLength="105.5">いずみスワローズ</text></g>
<g id="t63"><text class="n" x="631.1" y="261">63</text><text class="b" x="631.1" y="264.75" textLength="36.5">日野</text><text class="v" x="631.1" y="307.75" textLength="105.5">日野万タイガース</text></g>
</svg>
